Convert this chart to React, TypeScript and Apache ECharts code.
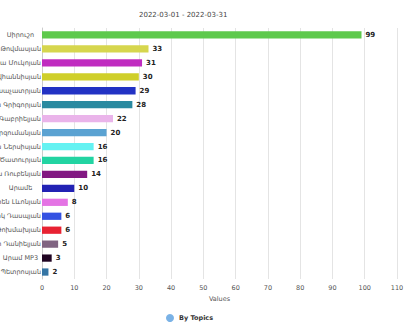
import React, { useEffect, useRef } from "react";
import * as echarts from "echarts";

const titleText = "2022-03-01 - 2022-03-31";
const seriesName = "By Topics";
const categories = [
  "Սիրուշո",
  "Արփինե Թովմասյան",
  "Լիլիա Մուկոյան",
  "Անի Հովհաննիսյան",
  "Արամ Խաչատրյան",
  "Սոնա Գրիգորյան",
  "Սամո Գաբրիելյան",
  "Արզումանյան",
  "Սոնա Ներսիսյան",
  "Արմեն Ծատուրյան",
  "Նարա Ռուբենյան",
  "Արամե",
  "Կարեն Լևոնյան",
  "Վարդիկ Դասպյան",
  "Մարո Թոխմախյան",
  "Արթուր Դանիելյան",
  "Արամ MP3",
  "Վահան Պետրոսյան",
];
const values = [99, 33, 31, 30, 29, 28, 22, 20, 16, 16, 14, 10, 8, 6, 6, 5, 3, 2];
const barColors = [
  "#5ec94c", "#d6d64e", "#c02cc0", "#cfcf2a", "#2232c4", "#2a8aa0",
  "#eab4ea", "#5aa2d2", "#64f2f2", "#22d4a2", "#821882", "#2222b4",
  "#e474e4", "#3452e2", "#e82232", "#806482", "#200422", "#3474a4",
];

const FONT = "DejaVu Sans";
const LABEL_SIZE = 6.5;
const LABEL_BOX = 41;

function measure(text: string): number {
  const c = document.createElement("canvas").getContext("2d");
  if (!c) return text.length * 4;
  c.font = `${LABEL_SIZE}px "${FONT}"`;
  return c.measureText(text).width;
}

export default function App() {
  const ref = useRef<HTMLDivElement>(null);
  useEffect(() => {
    document.body.style.margin = "0";
    if (!ref.current) return;
    const chart = echarts.init(ref.current, undefined, { renderer: "svg" });
    chart.setOption({
      animation: false,
      title: {
        text: titleText,
        left: 134,
        top: 6,
        textStyle: { fontFamily: FONT, fontSize: 7, fontWeight: "normal", color: "#444" },
      },
      legend: {
        data: [seriesName],
        left: 161,
        top: 309,
        icon: "circle",
        itemWidth: 8,
        itemHeight: 8,
        itemGap: 4,
        textStyle: { fontFamily: FONT, fontSize: 6.5, fontWeight: "bold", color: "#333" },
      },
      grid: { left: 42, right: 23, top: 28, bottom: 51, containLabel: false, outerBoundsMode: "none" },
      xAxis: {
        type: "value",
        min: 0,
        max: 110,
        interval: 10,
        name: "Values",
        nameLocation: "middle",
        nameGap: 13,
        nameTextStyle: { fontFamily: FONT, fontSize: 6.5, color: "#555" },
        axisLine: { show: false },
        axisTick: { show: false },
        axisLabel: { fontFamily: FONT, fontSize: 6.5, color: "#555", margin: 5 },
        splitLine: { show: true, lineStyle: { color: "#e4e4e4" } },
      },
      yAxis: {
        type: "category",
        data: categories,
        inverse: true,
        axisLine: { show: true, lineStyle: { color: "#ccc" } },
        axisTick: { show: false },
        axisLabel: {
          fontFamily: FONT,
          fontSize: LABEL_SIZE,
          color: "#555",
          margin: 1,
          align: "right",
          formatter: (v: string) => (measure(v) > LABEL_BOX ? `{r|${v}}` : `{c|${v}}`),
          rich: {
            r: { width: LABEL_BOX, align: "right", fontFamily: FONT, fontSize: LABEL_SIZE, color: "#555" },
            c: { width: LABEL_BOX, align: "center", fontFamily: FONT, fontSize: LABEL_SIZE, color: "#555" },
          },
        },
        splitLine: { show: false },
      },
      series: [
        {
          name: seriesName,
          type: "bar",
          barWidth: "52%",
          itemStyle: { color: "#7ab2e6" },
          data: values.map((v, i) => ({ value: v, itemStyle: { color: barColors[i] } })),
          label: {
            show: true,
            position: "right",
            distance: 4,
            fontFamily: FONT,
            fontSize: 7,
            fontWeight: "bold",
            color: "#222",
          },
        },
      ],
    });
    return () => chart.dispose();
  }, []);
  return <div ref={ref} style={{ width: 420, height: 330 }} />;
}
